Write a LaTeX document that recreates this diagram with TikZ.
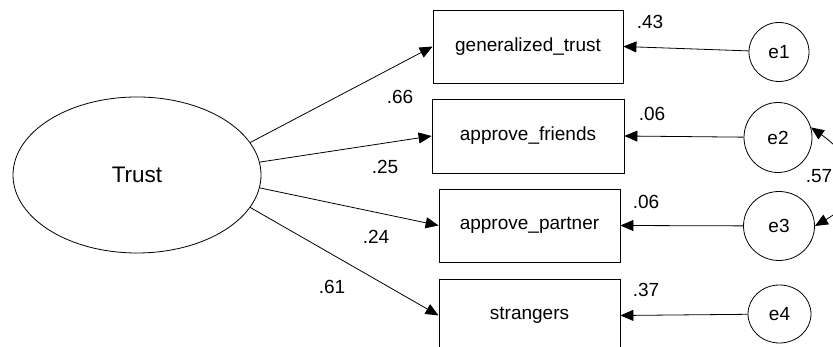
\documentclass[tikz,border=0pt]{standalone}
\usepackage{fontspec}
\setmainfont{Liberation Sans}
\usetikzlibrary{arrows.meta,shapes.geometric}
\begin{document}
\begin{tikzpicture}[x=1pt,y=1pt,
  every node/.style={font=\fontsize{19}{22}\selectfont},
  obs/.style={draw,line width=0.8pt,rectangle,inner sep=0pt},
  lat/.style={draw,line width=0.8pt,ellipse,inner sep=0pt},
  err/.style={draw,line width=0.8pt,ellipse,inner sep=0pt},
  path/.style={line width=0.8pt,-{Triangle[length=13pt,width=11pt]}},
  cov/.style={line width=0.8pt,{Triangle[length=13pt,width=11pt]}-{Triangle[length=13pt,width=11pt]}},
  lbl/.style={inner sep=0pt}]
\useasboundingbox (0,0) rectangle (833,347);
\clip (0,0) rectangle (833,347);
\fill[white] (0,0) rectangle (833,347);
% latent
\node[lat,minimum width=248pt,minimum height=156pt,font=\fontsize{22.5}{26}\selectfont] (T) at (137,172) {Trust};
% observed
\node[obs,minimum width=190pt,minimum height=73pt] (b1) at (528,300.5) {generalized\_trust};
\node[obs,minimum width=192pt,minimum height=74pt] (b2) at (528,211) {approve\_friends};
\node[obs,minimum width=181pt,minimum height=73pt] (b3) at (529.5,121.5) {approve\_partner};
\node[obs,minimum width=181pt,minimum height=73pt] (b4) at (529.5,31.5) {strangers};
% errors
\node[err,minimum width=60pt,minimum height=59pt] (e1) at (779,295) {e1};
\node[err,minimum width=68pt,minimum height=70pt] (e2) at (778,209.5) {e2};
\node[err,minimum width=71pt,minimum height=69pt] (e3) at (779,121) {e3};
\node[err,minimum width=63pt,minimum height=58pt] (e4) at (779.5,33) {e4};
% loadings
\draw[path] (T.16.5) -- (b1.west);
\draw[path] (T.6) -- (b2.west);
\draw[path] (T.-6) -- (b3.west);
\draw[path] (T.-16) -- (b4.west);
% error paths
\draw[path] (e1) -- (b1.east);
\draw[path] (e2) -- (b2.east);
\draw[path] (e3) -- (b3.east);
\draw[path] (e4) -- (b4.east);
% covariance
\draw[cov] (e2.17) to[out=-35,in=30,looseness=1.5] (e3.0);
% labels
\node[lbl] (l66) at (400,250) {.66};
\node[lbl] (l25) at (385,180) {.25};
\node[lbl] (l24) at (376,110) {.24};
\node[lbl] (l61) at (332,60) {.61};
\node[lbl] (l43) at (650,325) {.43};
\node[lbl] (l06a) at (652,233) {.06};
\node[lbl] (l06b) at (646,145) {.06};
\node[lbl] (l37) at (646,57) {.37};
\node[lbl,anchor=east] (l57) at (832.5,171) {.57};
\end{tikzpicture}
\end{document}
